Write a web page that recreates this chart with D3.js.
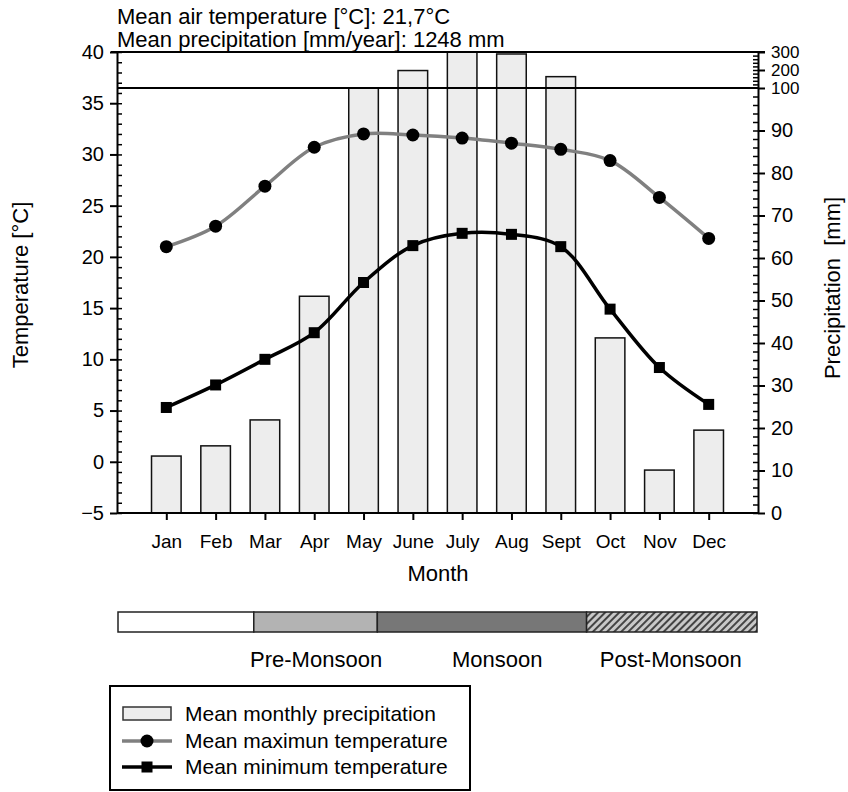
<!DOCTYPE html>
<html>
<head>
<meta charset="utf-8">
<script src="https://cdn.jsdelivr.net/npm/d3@7"></script>
<style>
  body { margin: 0; background: #fff; }
  svg { font-family: "Liberation Sans", Arial, sans-serif; }
</style>
</head>
<body>
<svg id="chart" width="848" height="792"></svg>
<script>
// data
var months = ["Jan", "Feb", "Mar", "Apr", "May", "June", "July", "Aug", "Sept", "Oct", "Nov", "Dec"];
var precip = [13.4, 15.8, 21.9, 51, 101, 197, 300, 289, 163, 41.2, 10.1, 19.5];   // mm
var tMax = [21.0, 23.0, 26.9, 30.7, 32.0, 31.9, 31.6, 31.1, 30.5, 29.4, 25.8, 21.8];
var tMin = [5.3, 7.5, 10.0, 12.6, 17.5, 21.1, 22.3, 22.2, 21.0, 14.9, 9.2, 5.6];
var tempTicks = [-5, 0, 5, 10, 15, 20, 25, 30, 35, 40];
var precipTicks = [0, 10, 20, 30, 40, 50, 60, 70, 80, 90, 100, 200, 300];
// seasons, in month units along the bar (0 = start of Jan, 12 = end of Dec)
var seasonNames = ["", "Pre-Monsoon", "Monsoon", "Post-Monsoon"];
var seasonStart = [0, 2.55, 4.87, 8.8];
var seasonEnd = [2.55, 4.87, 8.8, 12];
var seasonLabelAt = [1.3, 3.72, 7.12, 10.38];

var pLeft = 117, pRight = 758, pTop = 52, pBottom = 513, pBreak = 88;

var svg = d3.select("#chart");

var defs = svg.append("defs");
var hatch = defs.append("pattern")
    .attr("id", "hatch")
    .attr("patternUnits", "userSpaceOnUse")
    .attr("width", 5).attr("height", 5)
    .attr("patternTransform", "rotate(45)");
hatch.append("rect").attr("width", 5).attr("height", 5).attr("fill", "#c8c8c8");
hatch.append("rect").attr("width", 2).attr("height", 5).attr("fill", "#444");

defs.append("clipPath").attr("id", "plotclip")
  .append("rect").attr("x", pLeft).attr("y", pTop).attr("width", pRight - pLeft).attr("height", pBottom - pTop);

var x = d3.scalePoint().domain(months).range([pLeft, pRight]).padding(1);
var yT = d3.scaleLinear().domain([-5, 40]).range([pBottom, pTop]);
var yP = d3.scaleLinear().domain([0, 100, 300]).range([pBottom, pBreak, pTop]).clamp(true);

// title
svg.append("text").attr("x", pLeft).attr("y", 24).attr("font-size", 22).text("Mean air temperature [°C]: 21,7°C");
svg.append("text").attr("x", pLeft).attr("y", 47).attr("font-size", 22).text("Mean precipitation [mm/year]: 1248 mm");

// bars
var bw = x.step() * 0.6;
svg.append("g").attr("clip-path", "url(#plotclip)")
  .selectAll("rect").data(precip).enter().append("rect")
    .attr("x", function(d, i) { return x(months[i]) - bw / 2; })
    .attr("y", function(d) { return yP(d); })
    .attr("width", bw)
    .attr("height", function(d) { return pBottom - yP(d); })
    .attr("fill", "#ededed")
    .attr("stroke", "#111")
    .attr("stroke-width", 1.5);

// top frame line and axis break line
svg.append("line").attr("x1", pLeft - 6).attr("x2", pRight + 7).attr("y1", pTop).attr("y2", pTop)
  .attr("stroke", "#000").attr("stroke-width", 2);
svg.append("line").attr("x1", pLeft).attr("x2", pRight).attr("y1", pBreak).attr("y2", pBreak)
  .attr("stroke", "#000").attr("stroke-width", 2);

// temperature curves
var line = d3.line()
  .x(function(d, i) { return x(months[i]); })
  .y(function(d) { return yT(d); })
  .curve(d3.curveCatmullRom.alpha(0.5));

svg.append("path").datum(tMax).attr("d", line)
  .attr("fill", "none").attr("stroke", "#808080").attr("stroke-width", 3.5);
svg.append("path").datum(tMin).attr("d", line)
  .attr("fill", "none").attr("stroke", "#000").attr("stroke-width", 3.5);

svg.selectAll(".dot").data(tMax).enter().append("circle")
  .attr("class", "dot")
  .attr("cx", function(d, i) { return x(months[i]); })
  .attr("cy", function(d) { return yT(d); })
  .attr("r", 6.5).attr("fill", "#000");

svg.selectAll(".sq").data(tMin).enter().append("rect")
  .attr("class", "sq")
  .attr("x", function(d, i) { return x(months[i]) - 5.5; })
  .attr("y", function(d) { return yT(d) - 5.5; })
  .attr("width", 11).attr("height", 11).attr("fill", "#000");

// axes
function styleAxis(g, size) {
  g.selectAll(".domain").attr("stroke-width", 2);
  g.selectAll(".tick line").attr("stroke-width", 2);
  g.selectAll("text").attr("font-size", size).attr("fill", "#000")
    .attr("font-family", "Liberation Sans, Arial, sans-serif");
}

var gl = svg.append("g").attr("transform", "translate(" + pLeft + ",0)")
  .call(d3.axisLeft(yT).tickValues(tempTicks).tickSize(7).tickSizeOuter(0).tickPadding(6));
styleAxis(gl, 20);
svg.append("g").attr("transform", "translate(" + pLeft + ",0)")
  .call(d3.axisRight(yT).tickValues(d3.range(-5, 41, 1)).tickSize(5).tickFormat(""))
  .call(function(g) { g.select(".domain").remove(); g.selectAll(".tick line").attr("stroke-width", 1.5); });

var gr = svg.append("g").attr("transform", "translate(" + pRight + ",0)")
  .call(d3.axisRight(yP).tickValues(precipTicks).tickSize(7).tickSizeOuter(0).tickPadding(6));
styleAxis(gr, 20);
// the three labels above the break sit close together
gr.selectAll(".tick text").filter(function(d) { return d >= 100; }).attr("font-size", 17);
svg.append("g").attr("transform", "translate(" + pRight + ",0)")
  .call(d3.axisLeft(yP).tickValues(d3.range(0, 100, 2).concat(d3.range(120, 300, 20))).tickSize(5).tickFormat(""))
  .call(function(g) { g.select(".domain").remove(); g.selectAll(".tick line").attr("stroke-width", 1.5); });

var gb = svg.append("g").attr("transform", "translate(0," + pBottom + ")")
  .call(d3.axisBottom(x).tickSize(7).tickSizeOuter(0).tickPadding(15));
styleAxis(gb, 19);
gb.select(".domain").attr("d", "M" + pLeft + ",0H" + pRight);

// axis titles
svg.append("text").attr("transform", "translate(28,285) rotate(-90)")
  .attr("text-anchor", "middle").attr("font-size", 22).text("Temperature [°C]");
svg.append("text").attr("transform", "translate(840,288) rotate(-90)")
  .attr("text-anchor", "middle").attr("font-size", 22).style("white-space", "pre")
  .text("Precipitation  [mm]");
svg.append("text").attr("x", 438).attr("y", 581)
  .attr("text-anchor", "middle").attr("font-size", 22).text("Month");

// season bar
var s = d3.scaleLinear().domain([0, 12]).range([118, 757]);
var seasonFill = ["#fff", "#b3b3b3", "#777", "url(#hatch)"];
svg.selectAll(".season").data(seasonNames).enter().append("rect")
  .attr("class", "season")
  .attr("x", function(d, i) { return s(seasonStart[i]); })
  .attr("y", 612)
  .attr("width", function(d, i) { return s(seasonEnd[i]) - s(seasonStart[i]); })
  .attr("height", 20)
  .attr("fill", function(d, i) { return seasonFill[i]; })
  .attr("stroke", "#222").attr("stroke-width", 1.5);
svg.selectAll(".seasonlabel").data(seasonNames).enter().append("text")
  .attr("class", "seasonlabel")
  .attr("x", function(d, i) { return s(seasonLabelAt[i]); })
  .attr("y", 667)
  .attr("text-anchor", "middle")
  .attr("font-size", 22)
  .text(function(d) { return d; });

// legend
var lg = svg.append("g");
lg.append("rect").attr("x", 110).attr("y", 686).attr("width", 360).attr("height", 104)
  .attr("fill", "#fff").attr("stroke", "#000").attr("stroke-width", 2);
lg.append("rect").attr("x", 123).attr("y", 707).attr("width", 48).attr("height", 13)
  .attr("fill", "#ededed").attr("stroke", "#333").attr("stroke-width", 1.5);
lg.append("line").attr("x1", 122).attr("x2", 172).attr("y1", 741).attr("y2", 741)
  .attr("stroke", "#808080").attr("stroke-width", 3.5);
lg.append("circle").attr("cx", 147).attr("cy", 741).attr("r", 6.5).attr("fill", "#000");
lg.append("line").attr("x1", 122).attr("x2", 172).attr("y1", 767).attr("y2", 767)
  .attr("stroke", "#000").attr("stroke-width", 3.5);
lg.append("rect").attr("x", 141.5).attr("y", 761.5).attr("width", 11).attr("height", 11).attr("fill", "#000");
var legendText = ["Mean monthly precipitation", "Mean maximun temperature", "Mean minimum temperature"];
lg.selectAll(".lt").data(legendText).enter().append("text")
  .attr("class", "lt")
  .attr("x", 185)
  .attr("y", function(d, i) { return 721 + i * 26.5; })
  .attr("font-size", 21)
  .text(function(d) { return d; });
</script>
</body>
</html>
